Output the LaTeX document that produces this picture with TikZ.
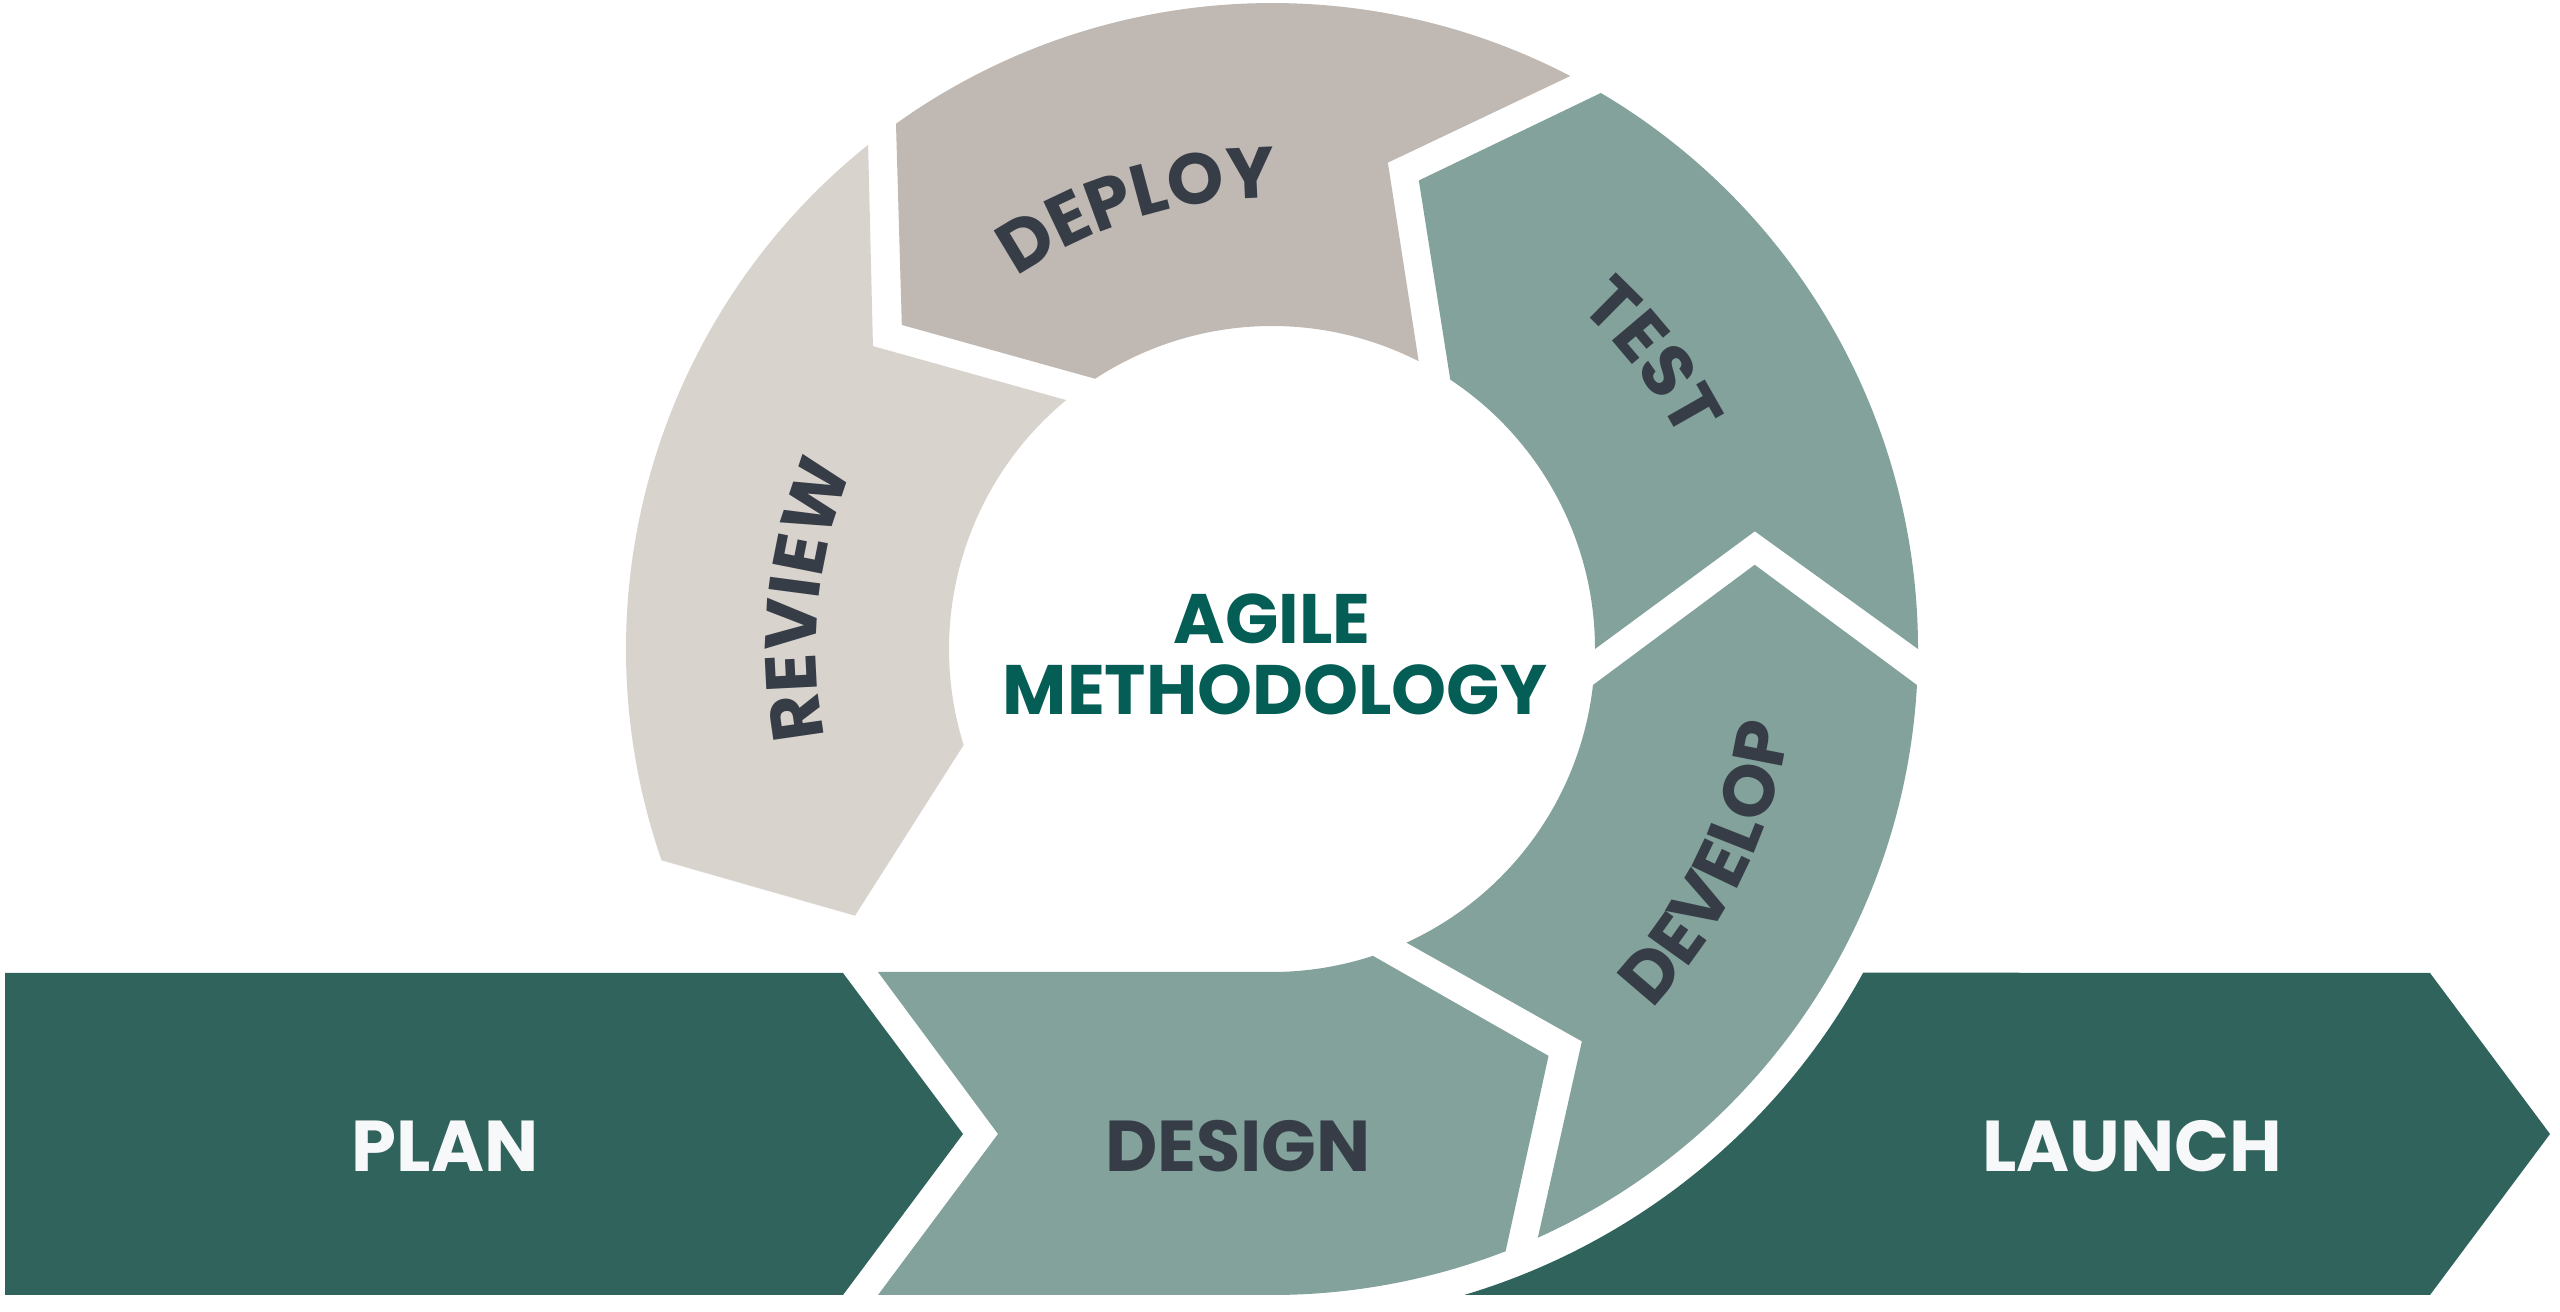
\documentclass[tikz,border=0pt]{standalone}
\usepackage{fontspec}
\setmainfont{Poppins}
\usetikzlibrary{decorations.text}
\definecolor{planG}{HTML}{2F635C}
\definecolor{sage}{HTML}{82A29B}
\definecolor{taupe}{HTML}{C0B8B2}
\definecolor{beige}{HTML}{D9D3CE}
\definecolor{ink}{HTML}{363D47}
\definecolor{tealT}{HTML}{055E55}
\definecolor{snow}{HTML}{F7F8FA}
\newcommand\lblfont{\bfseries\fontsize{72}{80}\selectfont}
\newcommand\ctrfont{\bfseries\fontsize{70}{78}\selectfont}
\begin{document}
\begin{tikzpicture}[x=1pt,y=1pt,
  lbl/.style={font=\lblfont, anchor=base, inner sep=0pt},
  ctr/.style={font=\ctrfont, text=tealT, anchor=base, inner sep=0pt},
  ringtext/.style={decorate, decoration={text along path, text align=center,
     text color=ink, text={|\lblfont|#1}}}
]
\useasboundingbox (0,0) rectangle (2560,1312);
\fill[white] (0,0) rectangle (2560,1312);

% PLAN arrow
\fill[planG] (5,339) -- (843,339) -- (963,178) -- (843,17) -- (5,17) -- cycle;

\begin{scope}[shift={(1272,663)}]
  % LAUNCH arrow
  \fill[planG] (1158,-324) -- (1278,-485) -- (1158,-646) -- (-73.4:674)
     arc[start angle=-73.4, end angle=-28.7, radius=674pt] -- cycle;
  % DESIGN
  \fill[sage] (-71.8:323) -- (-55.8:492) -- (-68.8:646)
     arc[start angle=-68.8, end angle=-90, radius=646pt]
     -- (-394,-646) -- (-274,-485) -- (-394,-323) -- (0,-323)
     arc[start angle=-90, end angle=-71.8, radius=323pt] -- cycle;
  % DEVELOP
  \fill[sage] (-3.2:646) -- (9.9:490) -- (-6.4:323)
     arc[start angle=-6.4, end angle=-65.4, radius=323pt]
     -- (-51.7:500) -- (-65.7:646)
     arc[start angle=-65.7, end angle=-3.2, radius=646pt] -- cycle;
  % TEST
  \fill[sage] (59.4:646) -- (72.6:491) -- (56.5:323)
     arc[start angle=56.5, end angle=0, radius=323pt]
     -- (13.7:497) -- (0:646)
     arc[start angle=0, end angle=59.4, radius=646pt] -- cycle;
  % DEPLOY
  \fill[taupe] (125.6:646) -- (138.8:492) -- (123.2:323)
     arc[start angle=123.2, end angle=63.0, radius=323pt]
     -- (76.6:500) -- (62.5:646)
     arc[start angle=62.5, end angle=125.6, radius=646pt] -- cycle;
  % REVIEW
  \fill[beige] (128.7:646) -- (142.8:501) -- (129.6:323)
     arc[start angle=129.6, end angle=197.3, radius=323pt]
     -- (212.6:495) -- (199.1:646)
     arc[start angle=199.1, end angle=128.7, radius=646pt] -- cycle;

  % ring labels
  \path[ringtext=DEPLOY] (147:451) arc[start angle=147, end angle=67, radius=451pt];
  \path[ringtext=TEST] (77.5:459) arc[start angle=77.5, end angle=-2.5, radius=459pt];
  \path[ringtext=REVIEW] (214:456) arc[start angle=214, end angle=134, radius=456pt];
  \path[ringtext=DEVELOP] (-66:523) arc[start angle=-66, end angle=14, radius=523pt];
\end{scope}

% box labels
\node[lbl, text=snow] (plan) at (445,140) {PLAN};
\node[lbl, text=ink] (design) at (1238,140) {DESIGN};
\node[lbl, text=snow] (launch) at (2132,140) {LAUNCH};

% centre title
\node[ctr] (agile) at (1272,668) {AGILE};
\node[ctr] (method) at (1275,597) {METHODOLOGY};
\end{tikzpicture}
\end{document}
